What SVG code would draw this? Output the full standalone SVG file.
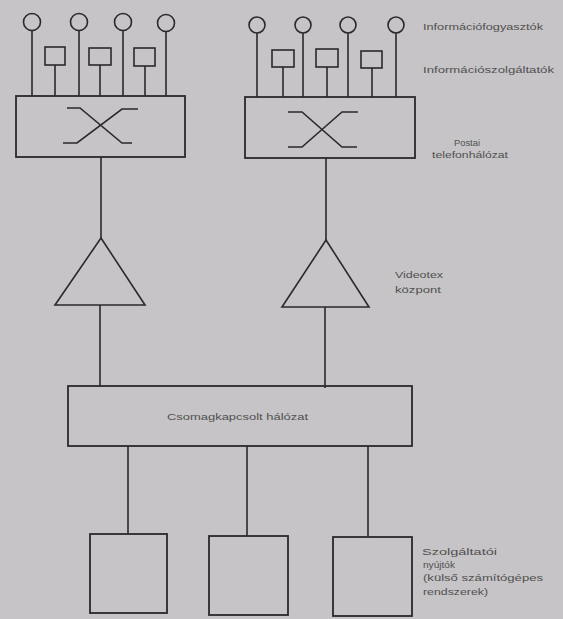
<svg xmlns="http://www.w3.org/2000/svg" width="563" height="619" viewBox="0 0 563 619">
<style>
.ln{fill:none;stroke:#2a2a2a;stroke-width:1.6;stroke-linejoin:miter}
.bx{fill:none;stroke:#2a2a2a;stroke-width:1.8}
.t{font-family:"Liberation Sans",Arial,sans-serif;font-size:9px;fill:#505050}
</style>
<rect width="563" height="619" fill="#c6c4c6"/>
<g id="connectors" class="ln">
<path d="M32,31V96M79,31V96M123,31V96M166,32V96M55,65V96M100,65V96M145,66V96"/>
<path d="M257,33V97M303,33V97M348,33V97M396,33V97M283,67V97M327,67V97M372,68V97"/>
<path d="M101,157V238M326,158V240M100,305V386M325,307V388"/>
<path d="M128,446V534M247,446V536M368,446V537"/>
</g>
<g id="consumers-left" class="ln">
<circle cx="32" cy="22" r="8.5"/><circle cx="79" cy="22" r="8.5"/><circle cx="123" cy="22" r="8.5"/><circle cx="166" cy="23" r="8.5"/>
</g>
<g id="providers-left" class="ln">
<rect x="45" y="47" width="20" height="18"/><rect x="89" y="48" width="22" height="17"/><rect x="134" y="48" width="21" height="18"/>
</g>
<g id="consumers-right" class="ln">
<circle cx="257" cy="25" r="8"/><circle cx="303" cy="25" r="8"/><circle cx="348" cy="25" r="8"/><circle cx="396" cy="25" r="8"/>
</g>
<g id="providers-right" class="ln">
<rect x="272" y="50" width="22" height="17"/><rect x="316" y="49" width="22" height="18"/><rect x="361" y="51" width="21" height="17"/>
</g>
<g id="phone-left">
<rect class="bx" x="16" y="96" width="169" height="61"/>
<path class="ln" d="M67,108H80L122,143H132M63,143H77L122,109H138"/>
</g>
<g id="phone-right">
<rect class="bx" x="245" y="97" width="170" height="61"/>
<path class="ln" d="M288,112H302L342,147H357M288,147H302L342,112H358"/>
</g>
<g id="videotex-left"><path class="ln" d="M101,238L145,305H55Z"/></g>
<g id="videotex-right"><path class="ln" d="M326,240L369,307H282Z"/></g>
<g id="packet-network">
<rect class="bx" x="68" y="386" width="344" height="60"/>
<text class="t" x="167" y="420" textLength="141" lengthAdjust="spacingAndGlyphs">Csomagkapcsolt hálózat</text>
</g>
<g id="host1"><rect class="bx" x="90" y="534" width="77" height="79"/></g>
<g id="host2"><rect class="bx" x="209" y="536" width="79" height="79"/></g>
<g id="host3"><rect class="bx" x="333" y="537" width="79" height="79"/></g>
<g id="labels">
<text class="t" x="423" y="30" textLength="120" lengthAdjust="spacingAndGlyphs">Információfogyasztók</text>
<text class="t" x="423" y="73" textLength="131" lengthAdjust="spacingAndGlyphs">Információszolgáltatók</text>
<text class="t" x="454" y="146" textLength="26" lengthAdjust="spacingAndGlyphs">Postai</text>
<text class="t" x="432" y="158" textLength="76" lengthAdjust="spacingAndGlyphs">telefonhálózat</text>
<text class="t" x="395" y="278" textLength="48" lengthAdjust="spacingAndGlyphs">Videotex</text>
<text class="t" x="395" y="293" textLength="46" lengthAdjust="spacingAndGlyphs">központ</text>
<text class="t" x="422" y="555" textLength="75" lengthAdjust="spacingAndGlyphs">Szolgáltatói</text>
<text class="t" x="423" y="568" textLength="32" lengthAdjust="spacingAndGlyphs">nyújtók</text>
<text class="t" x="423" y="581" textLength="120" lengthAdjust="spacingAndGlyphs">(külső számítógépes</text>
<text class="t" x="423" y="595" textLength="65" lengthAdjust="spacingAndGlyphs">rendszerek)</text>
</g>
</svg>
